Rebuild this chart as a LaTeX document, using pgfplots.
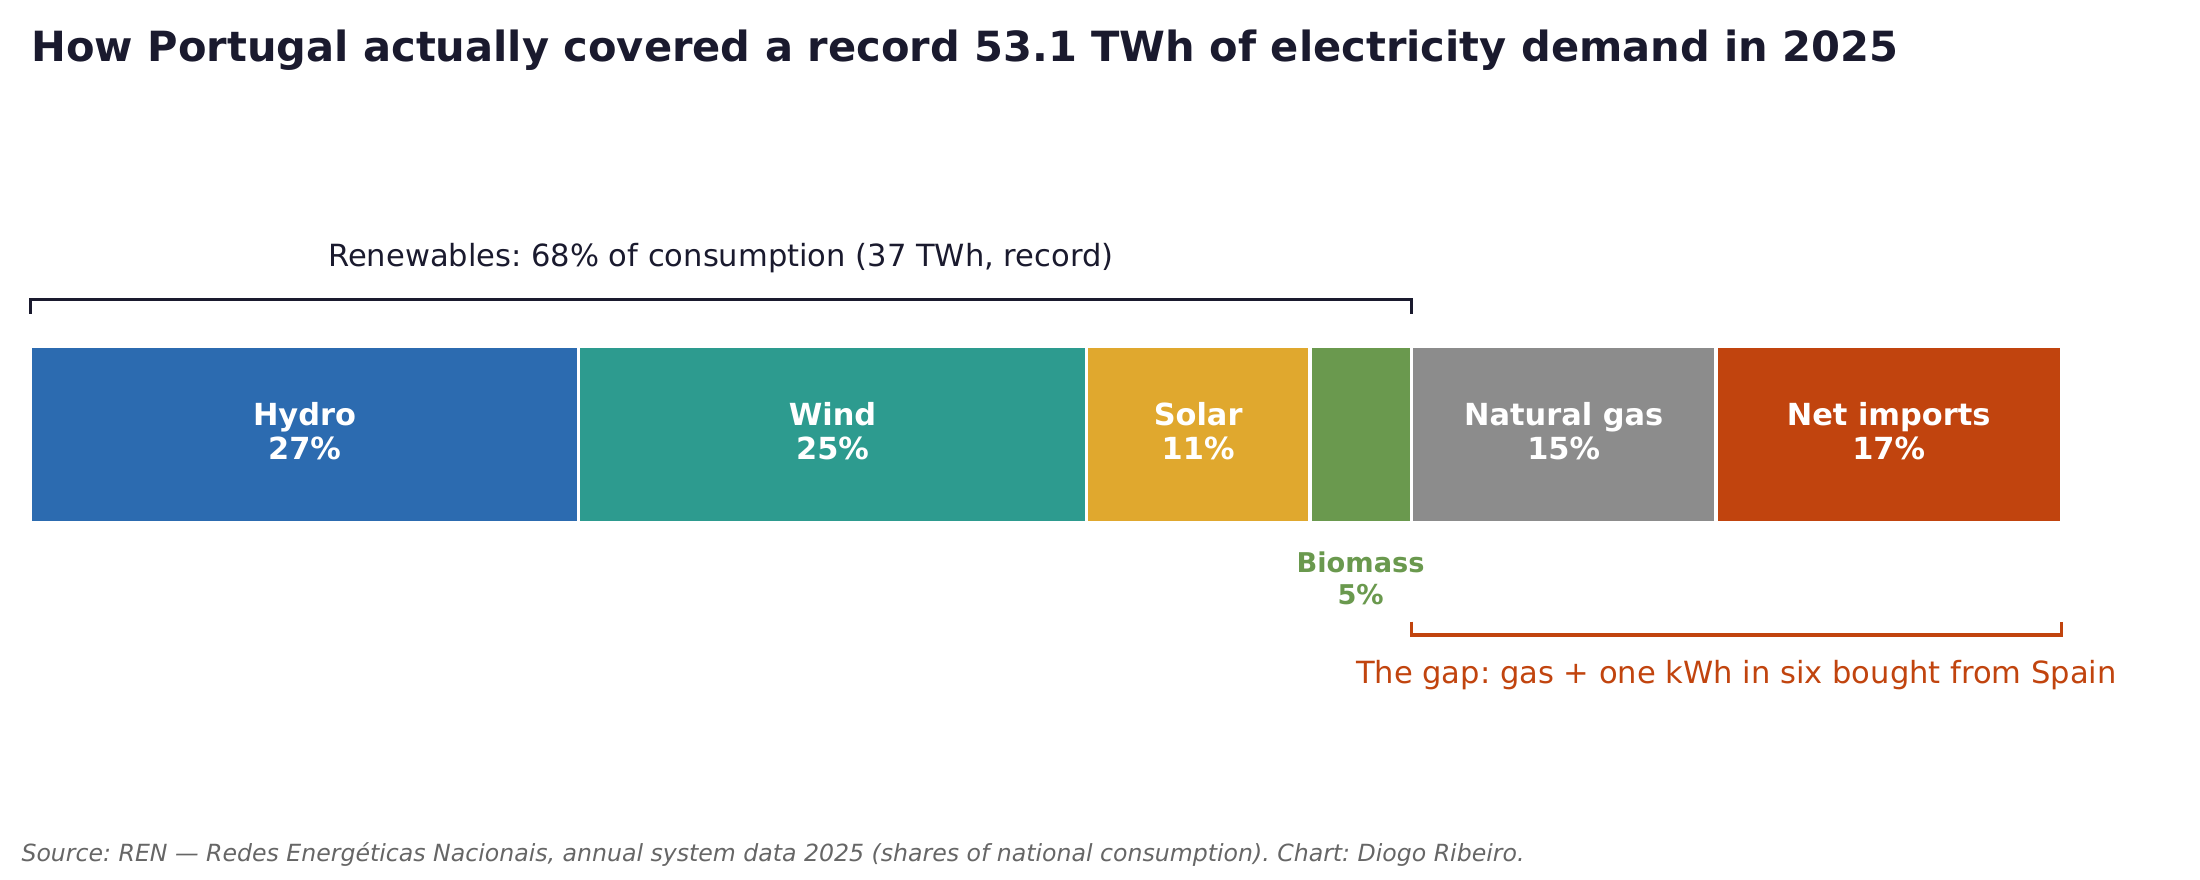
\documentclass[border=0pt]{standalone}
\usepackage{pgfplots}
\pgfplotsset{compat=1.18}
\usepackage{fontspec}
\setmainfont{DejaVu Sans}
\frenchspacing

\definecolor{hydro}{HTML}{2C6BB0}
\definecolor{wind}{HTML}{2D9B8F}
\definecolor{solar}{HTML}{E0A82E}
\definecolor{biomass}{HTML}{6A994E}
\definecolor{gas}{HTML}{8C8C8C}
\definecolor{imports}{HTML}{C1440E}
\definecolor{ink}{HTML}{1A1A2E}
\definecolor{note}{HTML}{666666}

\tikzset{
  seg/.style={anchor=base, inner sep=0, text=white,
    font=\fontsize{10.95pt}{12.4pt}\selectfont\bfseries},
  bio/.style={anchor=base, inner sep=0, text=biomass,
    font=\fontsize{9.8pt}{12pt}\selectfont\bfseries},
}

\begin{document}
\begin{tikzpicture}
\begin{axis}[
  scale only axis, width=792pt, height=316.8pt,
  % x in percent of consumption, y in picture rows (top = 0)
  xmin=-1.492, xmax=106.83, ymin=0, ymax=880, y dir=reverse,
  hide axis, clip=false,
  xbar stacked, bar width=177,
  every axis plot/.append style={draw=white, line width=1.26pt},
  % segment labels go on top of the bars
  after end axis/.code={
    \node[seg] at (axis cs:13.5,425.7) {Hydro};
    \node[seg] at (axis cs:13.5,460)   {27\%};
    \node[seg] at (axis cs:39.5,425.7) {Wind};
    \node[seg] at (axis cs:39.5,460)   {25\%};
    \node[seg] at (axis cs:57.5,425.7) {Solar};
    \node[seg] at (axis cs:57.5,460)   {11\%};
    \node[seg] at (axis cs:75.5,425.7) {Natural gas};
    \node[seg] at (axis cs:75.5,460)   {15\%};
    \node[seg] at (axis cs:91.5,425.7) {Net imports};
    \node[seg] at (axis cs:91.5,460)   {17\%};
  },
]
\path (axis cs:-1.492,0) rectangle (axis cs:106.83,880);

% shares of national consumption, 2025 (%)
\addplot[fill=hydro]   coordinates {(27,434.7)};
\addplot[fill=wind]    coordinates {(25,434.7)};
\addplot[fill=solar]   coordinates {(11,434.7)};
\addplot[fill=biomass] coordinates {(5,434.7)};
\addplot[fill=gas]     coordinates {(15,434.7)};
\addplot[fill=imports] coordinates {(17,434.7)};

% biomass is too narrow, label below
\node[bio] at (axis cs:65.5,572.3) {Biomass};
\node[bio] at (axis cs:65.5,605)   {5\%};

% renewables bracket
\draw[ink, line width=1.1pt] (axis cs:0,314) -- (axis cs:0,299.3) -- (axis cs:68,299.3) -- (axis cs:68,314);
\node[anchor=base, inner sep=0, text=ink, font=\fontsize{11pt}{13pt}\selectfont]
  at (axis cs:34,266.7) {Renewables: 68\% of consumption (37 TWh, record)};

% gap bracket
\draw[imports, line width=1.2pt] (axis cs:68,621.7) -- (axis cs:68,635) -- (axis cs:100,635) -- (axis cs:100,621.7);
\node[anchor=base, inner sep=0, text=imports, font=\fontsize{11pt}{13pt}\selectfont]
  at (axis cs:84,683.3) {The gap: gas + one kWh in six bought from Spain};

% title and source
\node[anchor=base west, inner sep=0, text=ink, font=\fontsize{14.97pt}{18pt}\selectfont\bfseries]
  at (axis cs:0.03,61.7) {How Portugal actually covered a record 53.1 TWh of electricity demand in 2025};
\node[anchor=base west, inner sep=0, text=note, font=\fontsize{8.5pt}{10pt}\selectfont\itshape]
  at (axis cs:-0.458,861.7) {Source: REN — Redes Energéticas Nacionais, annual system data 2025 (shares of national consumption). Chart: Diogo Ribeiro.};
\end{axis}
\end{tikzpicture}
\end{document}
